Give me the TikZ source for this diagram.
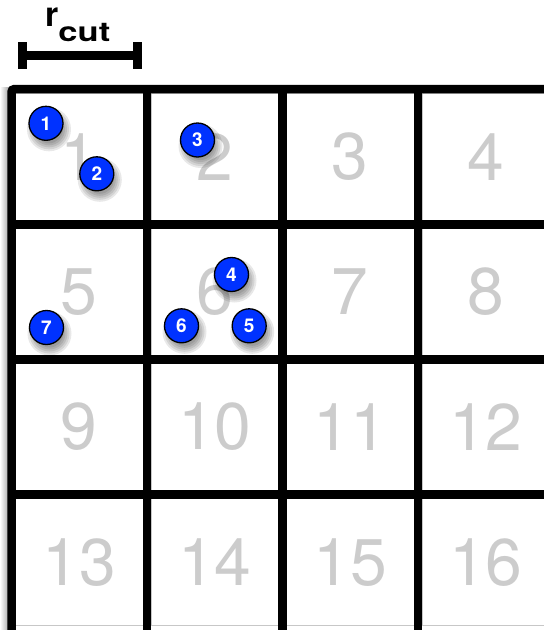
\documentclass[tikz,border=0pt]{standalone}
\usepackage{fontspec}
\setmainfont{TeX Gyre Heros}
\definecolor{ballblue}{RGB}{0,50,255}
\definecolor{cellnum}{RGB}{204,204,204}
\begin{document}
\begin{tikzpicture}[x=1pt,y=-1pt,
  gridline/.style={line width=8.5pt},
  cellbox/.style={draw=black!22, line width=0.8pt},
  cellno/.style={text=cellnum, inner sep=0, font=\fontsize{66}{66}\selectfont},
  ball/.style={circle, fill=ballblue, draw=black, line width=1.3pt, minimum size=34pt,
    inner sep=0, text=white, font=\fontsize{19}{19}\selectfont\bfseries},
  barline/.style={line width=9pt}]
\useasboundingbox (0,0) rectangle (544,630);
\clip (0,0) rectangle (544,630);
\fill[white] (0,0) rectangle (544,630);
% shadow left of grid
\shade[left color=white, right color=black!45] (0,87) rectangle (11.5,640);
% thin cell borders
\foreach \xa in {11.5,147,282.5,418}{
  \foreach \ya in {89,224.5,359.5,494.5}{
    \draw[cellbox] (\xa+4,\ya+4) rectangle (\xa+131.5,\ya+131);
  }
}
% cell numbers
\node[cellno] (c1)  at (79.25,156.75) {1};
\node[cellno] (c2)  at (214.75,156.75) {2};
\node[cellno] (c3)  at (350.25,156.75) {3};
\node[cellno] (c4)  at (485.75,156.75) {4};
\node[cellno] (c5)  at (79.25,292) {5};
\node[cellno] (c6)  at (214.75,292) {6};
\node[cellno] (c7)  at (350.25,292) {7};
\node[cellno] (c8)  at (485.75,292) {8};
\node[cellno] (c9)  at (79.25,427) {9};
\node[cellno] (c10) at (214.75,427) {10};
\node[cellno] (c11) at (350.25,427) {11};
\node[cellno] (c12) at (485.75,427) {12};
\node[cellno] (c13) at (79.25,562.5) {13};
\node[cellno] (c14) at (214.75,562.5) {14};
\node[cellno] (c15) at (350.25,562.5) {15};
\node[cellno] (c16) at (485.75,562.5) {16};
% grid lines
\draw[gridline, rounded corners=3pt] (11.5,645) -- (11.5,89) -- (565,89);
\foreach \xa in {147,282.5,418,553.5}{ \draw[gridline] (\xa,89) -- (\xa,645); }
\foreach \ya in {224.5,359.5,494.5}{ \draw[gridline] (11.5,\ya) -- (565,\ya); }
% ball shadows
\foreach \px/\py in {46/123.3,96.8/173.8,197.5/140,231.5/274.5,249.2/325.8,181.5/325.8,46.5/327.5}{
  \foreach \r in {22,20,18,16,14}{
    \fill[black, opacity=0.09] (\px+3,\py+6) circle (\r);
  }
}
% balls
\node[ball] (p1) at (46,123.3) {1};
\node[ball] (p2) at (96.8,173.8) {2};
\node[ball] (p3) at (197.5,140) {3};
\node[ball] (p4) at (231.5,274.5) {4};
\node[ball] (p5) at (249.2,325.8) {5};
\node[ball] (p6) at (181.5,325.8) {6};
\node[ball] (p7) at (46.5,327.5) {7};
% r_cut bar
\coordinate (rl) at (22,55.5);
\coordinate (rr) at (137.5,55.5);
\draw[barline] (rl) -- (rr);
\draw[barline] ([yshift=13.5pt]rl) -- ([yshift=-13.5pt]rl);
\draw[barline] ([yshift=13.5pt]rr) -- ([yshift=-13.5pt]rr);
\node[anchor=base west, inner sep=0, font=\bfseries] (rlab) at (45,26.7)
  {\fontsize{34}{34}\selectfont r\raisebox{-15pt}{\fontsize{27}{27}\selectfont\scalebox{1.28}[1]{cut}}};
\end{tikzpicture}
\end{document}
